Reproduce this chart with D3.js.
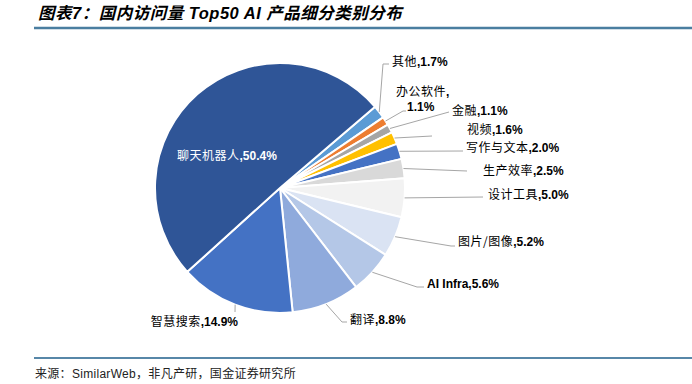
<!DOCTYPE html>
<html>
<head>
<meta charset="utf-8">
<script src="https://cdn.jsdelivr.net/npm/d3@7"></script>
<style>
  html, body { margin: 0; padding: 0; background: #fff; }
  svg { display: block; }
</style>
</head>
<body>
<div id="chart"></div>
<script>
// data, clockwise from the first slice (其他)
const categories = ["其他", "办公软件", "金融", "视频", "写作与文本", "生产效率", "设计工具", "图片/图像", "AI Infra", "翻译", "智慧搜索", "聊天机器人"];
const shares = [1.7, 1.1, 1.1, 1.6, 2.0, 2.5, 5.0, 5.2, 5.6, 8.8, 14.9, 50.4];
const palette = ["#5B9BD5", "#ED7D31", "#A5A5A5", "#FFC000", "#4472C4", "#D9D9D9", "#F2F2F2", "#DAE3F3", "#B4C7E7", "#8FAADC", "#4472C4", "#2F5597"];

const W = 692, H = 384;
const cx = 280, cy = 188, R = 125;
const startDeg = 49.5;

// where each label sits (text start/end + leader bends), pixel layout
const labelLayout = {
    "其他":       { x: 392, y: 62,  anchor: "start", bends: [[383, 64], [389, 64]] },
    "办公软件":   { x: 396, y: 92,  anchor: "start", twoLine: true, bends: [[403, 111], [406, 111]] },
    "金融":       { x: 452, y: 111, anchor: "start", bends: [[449, 112]] },
    "视频":       { x: 467, y: 130, anchor: "start", bends: [[432, 136]] },
    "写作与文本": { x: 466, y: 148, anchor: "start", bends: [[463, 151]] },
    "生产效率":   { x: 483, y: 171, anchor: "start", bends: [[467, 171]] },
    "设计工具":   { x: 488, y: 195, anchor: "start", bends: [[483, 197]] },
    "图片/图像":  { x: 458, y: 242, anchor: "start", bends: [[451, 246], [455, 246]] },
    "AI Infra":   { x: 427, y: 284, anchor: "start", bends: [[417, 287], [424, 287]] },
    "翻译":       { x: 350, y: 320, anchor: "start", bends: [[342, 322], [347, 322]] },
    "智慧搜索":   { x: 238, y: 322, anchor: "end",   bends: [[235, 312]] },
    "聊天机器人": { x: 177, y: 156, anchor: "start", inside: true }
};

const cjkFont = "'Noto Sans CJK SC', sans-serif";
const numFont = "'Liberation Sans', Arial, sans-serif";

const svg = d3.select("#chart").append("svg")
    .attr("width", W)
    .attr("height", H);

// title
svg.append("text")
    .attr("x", 38)
    .attr("y", 19)
    .style("font-family", numFont + ", 'Noto Sans CJK SC'")
    .style("font-size", "16.5px")
    .style("letter-spacing", "0.5px")
    .style("font-weight", "bold")
    .style("font-style", "italic")
    .attr("fill", "#000")
    .text("图表7：国内访问量 Top50 AI 产品细分类别分布");

svg.append("line")
    .attr("x1", 34).attr("x2", 692)
    .attr("y1", 28).attr("y2", 28)
    .attr("stroke", "#4A7EA0")
    .attr("stroke-width", 2.5);

// footer
svg.append("line")
    .attr("x1", 34).attr("x2", 692)
    .attr("y1", 358).attr("y2", 358)
    .attr("stroke", "#1F5F8B")
    .attr("stroke-width", 1.5);

svg.append("text")
    .attr("x", 35)
    .attr("y", 378)
    .style("font-family", numFont + ", 'Noto Sans CJK SC'")
    .style("font-size", "12px")
    .style("letter-spacing", "0.3px")
    .attr("fill", "#222")
    .text("来源：SimilarWeb，非凡产研，国金证券研究所");

// pie
const data = categories.map((c, i) => ({ name: c, value: shares[i], color: palette[i] }));

const pie = d3.pie()
    .sort(null)
    .value(d => d.value)
    .startAngle(startDeg * Math.PI / 180)
    .endAngle(startDeg * Math.PI / 180 + 2 * Math.PI);

const arc = d3.arc().innerRadius(0).outerRadius(R);
const edge = d3.arc().innerRadius(R).outerRadius(R);

const g = svg.append("g").attr("transform", `translate(${cx},${cy})`);
const arcs = pie(data);

g.selectAll("path.slice")
    .data(arcs)
    .enter().append("path")
    .attr("class", "slice")
    .attr("d", arc)
    .attr("fill", d => d.data.color)
    .attr("stroke", "#fff")
    .attr("stroke-width", 2)
    .attr("stroke-linejoin", "round");

// leader lines
arcs.forEach(d => {
    const lay = labelLayout[d.data.name];
    if (!lay || lay.inside) return;
    const p0 = edge.centroid(d);
    const pts = [[p0[0] + cx, p0[1] + cy]].concat(lay.bends);
    svg.append("path")
        .attr("d", d3.line()(pts))
        .attr("fill", "none")
        .attr("stroke", "#A6A6A6")
        .attr("stroke-width", 1);
});

// labels
arcs.forEach(d => {
    const lay = labelLayout[d.data.name];
    if (!lay) return;
    const pct = d.data.value.toFixed(1) + "%";
    const fill = lay.inside ? "#fff" : "#000";
    const isLatin = /^[A-Za-z ]+$/.test(d.data.name);

    const t = svg.append("text")
        .attr("x", lay.x)
        .attr("y", lay.y)
        .attr("dy", "0.36em")
        .attr("text-anchor", lay.anchor)
        .attr("fill", fill)
        .style("font-size", "12px");

    if (lay.twoLine) {
        t.append("tspan")
            .style("font-family", cjkFont)
            .style("letter-spacing", "0.5px")
            .text(d.data.name);
        t.append("tspan")
            .style("font-family", numFont)
            .style("font-weight", "bold")
            .text(",");
        t.append("tspan")
            .attr("x", lay.x + 11)
            .attr("dy", "1.25em")
            .style("font-family", numFont)
            .style("font-weight", "bold")
            .text(pct);
        return;
    }

    t.append("tspan")
        .style("font-family", isLatin ? numFont : cjkFont)
        .style("font-weight", isLatin ? "bold" : "normal")
        .style("letter-spacing", isLatin ? "0px" : "0.5px")
        .text(d.data.name);
    t.append("tspan")
        .style("font-family", numFont)
        .style("font-weight", "bold")
        .text("," + pct);
});
</script>
</body>
</html>
